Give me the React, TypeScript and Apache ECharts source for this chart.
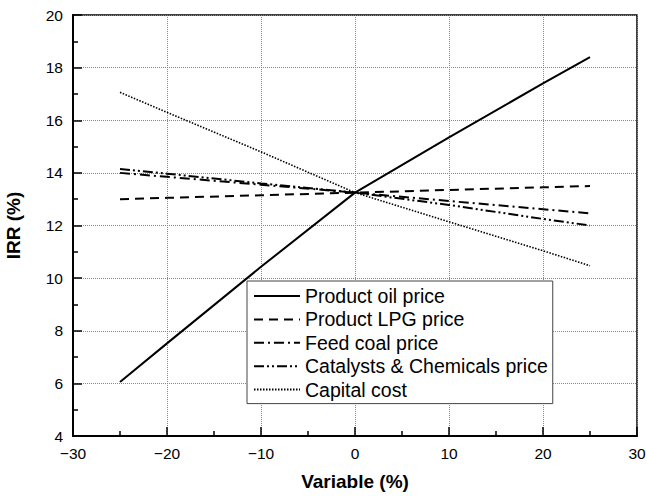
import React, { useEffect, useRef } from "react";
import * as echarts from "echarts";

const variable = [-25, -20, -10, 0, 10, 20, 25];
const productOil = [6.05, 7.52, 10.43, 13.25, 15.35, 17.4, 18.4];
const productLPG = [13.0, 13.05, 13.15, 13.25, 13.35, 13.45, 13.5];
const feedCoal = [14.0, 13.85, 13.55, 13.25, 12.93, 12.62, 12.46];
const catalysts = [14.15, 13.97, 13.6, 13.25, 12.78, 12.25, 12.0];
const capitalCost = [17.06, 16.3, 14.8, 13.25, 12.14, 11.04, 10.47];

const seriesNames = [
  "Product oil price",
  "Product LPG price",
  "Feed coal price",
  "Catalysts & Chemicals price",
  "Capital cost",
];

const FONT = 'Arial, "Liberation Sans", sans-serif';
const minus = (v: number) => String(v).replace("-", "\u2212");

export default function App() {
  const ref = useRef<HTMLDivElement>(null);
  useEffect(() => {
    if (!ref.current) return;
    const chart = echarts.init(ref.current, null, { renderer: "svg" });
    const values = [productOil, productLPG, feedCoal, catalysts, capitalCost];
    const styles: any[] = [
      { type: "solid", width: 2 },
      { type: [9, 6], width: 2 },
      { type: [10, 4, 2, 4], width: 2 },
      { type: [10, 3, 2, 3, 2, 3], width: 2 },
      { type: [1.5, 1.5], width: 1.6 },
    ];
    chart.setOption({
      animation: false,
      backgroundColor: "#fff",
      grid: {
        left: 73,
        right: 9,
        top: 15,
        bottom: 60,
        containLabel: false,
        outerBoundsMode: "none",
        show: true,
        borderColor: "#000",
        borderWidth: 1.5,
      },
      legend: {
        left: 247,
        top: 281,
        orient: "vertical",
        data: seriesNames,
        itemWidth: 46,
        itemHeight: 14,
        itemGap: 3.4,
        padding: [5, 5, 4, 6],
        borderColor: "#444",
        borderWidth: 1,
        borderRadius: 0,
        backgroundColor: "#fff",
        itemStyle: { opacity: 0 },
        textStyle: { fontFamily: FONT, fontSize: 19.5, color: "#000", lineHeight: 20 },
      },
      xAxis: {
        type: "value",
        min: -30,
        max: 30,
        interval: 10,
        name: "Variable (%)",
        nameLocation: "middle",
        nameGap: 36,
        nameTextStyle: { fontFamily: FONT, fontSize: 19, fontWeight: "bold", color: "#000" },
        axisLine: { show: true, onZero: false, lineStyle: { color: "#000", width: 2 } },
        axisTick: { show: true, inside: true, length: 9, lineStyle: { color: "#000", width: 1.5 } },
        minorTick: { show: true, splitNumber: 2, length: 5, lineStyle: { color: "#000", width: 1.5 } },
        axisLabel: { fontFamily: FONT, fontSize: 15.5, color: "#000", margin: 9, formatter: minus },
        splitLine: { show: true, lineStyle: { color: "#888", type: [1, 1], width: 1 } },
      },
      yAxis: {
        type: "value",
        min: 4,
        max: 20,
        interval: 2,
        name: "IRR (%)",
        nameLocation: "middle",
        nameGap: 50,
        nameRotate: 90,
        nameTextStyle: { fontFamily: FONT, fontSize: 19, fontWeight: "bold", color: "#000" },
        axisLine: { show: true, onZero: false, lineStyle: { color: "#000", width: 2 } },
        axisTick: { show: true, inside: true, length: 9, lineStyle: { color: "#000", width: 1.5 } },
        minorTick: { show: true, splitNumber: 2, length: 5, lineStyle: { color: "#000", width: 1.5 } },
        axisLabel: { fontFamily: FONT, fontSize: 15.5, color: "#000", margin: 10, formatter: minus },
        splitLine: { show: true, lineStyle: { color: "#888", type: [1, 1], width: 1 } },
      },
      series: seriesNames.map((name, i) => ({
        name,
        type: "line",
        symbol: "none",
        z: 3,
        data: variable.map((x, j) => [x, values[i][j]]),
        lineStyle: { color: "#000", ...styles[i] },
        itemStyle: { color: "#000" },
      })),
    });
    return () => chart.dispose();
  }, []);
  return (
    <div
      ref={ref}
      style={{ position: "fixed", left: 0, top: 0, width: 646, height: 496 }}
    />
  );
}
